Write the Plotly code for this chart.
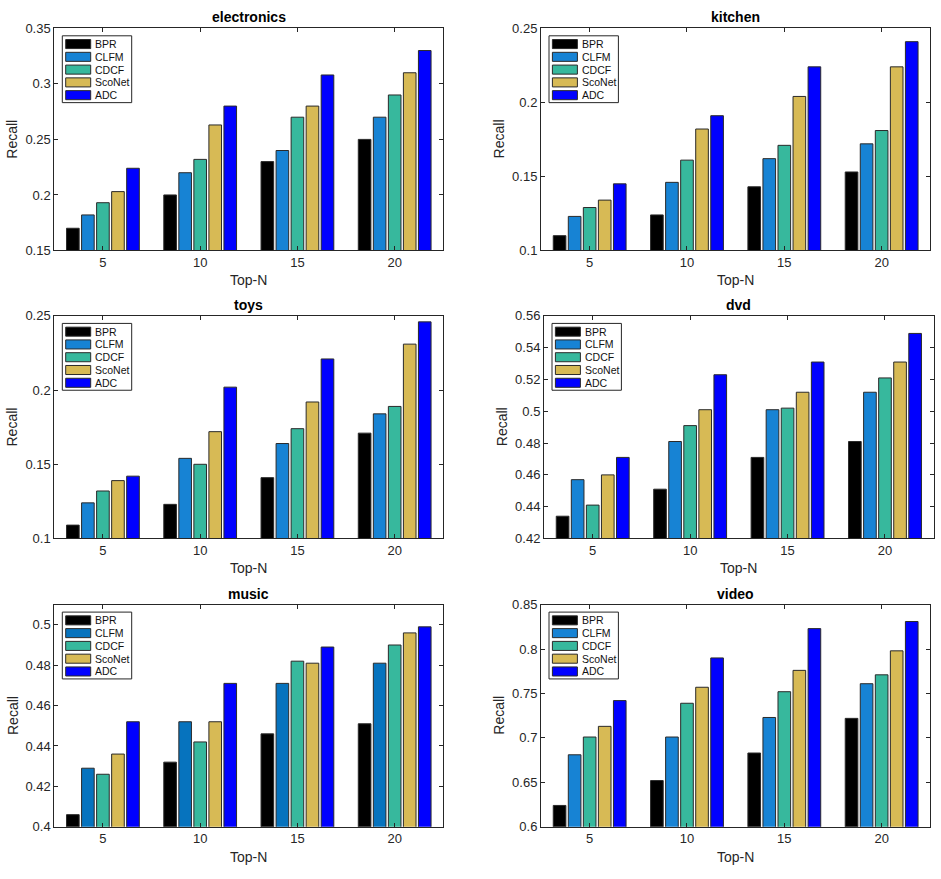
import plotly.graph_objects as go

W, H = 941, 879

top_n = ["5", "10", "15", "20"]
methods = ["BPR", "CLFM", "CDCF", "ScoNet", "ADC"]

electronics = {"BPR": [0.170, 0.200, 0.230, 0.250], "CLFM": [0.182, 0.220, 0.240, 0.270],
               "CDCF": [0.193, 0.232, 0.270, 0.290], "ScoNet": [0.203, 0.263, 0.280, 0.310],
               "ADC": [0.224, 0.280, 0.308, 0.330]}
kitchen = {"BPR": [0.110, 0.124, 0.143, 0.153], "CLFM": [0.123, 0.146, 0.162, 0.172],
           "CDCF": [0.129, 0.161, 0.171, 0.181], "ScoNet": [0.134, 0.182, 0.204, 0.224],
           "ADC": [0.145, 0.191, 0.224, 0.241]}
toys = {"BPR": [0.109, 0.123, 0.141, 0.171], "CLFM": [0.124, 0.154, 0.164, 0.184],
        "CDCF": [0.132, 0.150, 0.174, 0.189], "ScoNet": [0.139, 0.172, 0.192, 0.231],
        "ADC": [0.142, 0.202, 0.221, 0.246]}
dvd = {"BPR": [0.434, 0.451, 0.471, 0.481], "CLFM": [0.457, 0.481, 0.501, 0.512],
       "CDCF": [0.441, 0.491, 0.502, 0.521], "ScoNet": [0.460, 0.501, 0.512, 0.531],
       "ADC": [0.471, 0.523, 0.531, 0.549]}
music = {"BPR": [0.406, 0.432, 0.446, 0.451], "CLFM": [0.429, 0.452, 0.471, 0.481],
         "CDCF": [0.426, 0.442, 0.482, 0.490], "ScoNet": [0.436, 0.452, 0.481, 0.496],
         "ADC": [0.452, 0.471, 0.489, 0.499]}
video = {"BPR": [0.624, 0.652, 0.683, 0.722], "CLFM": [0.681, 0.701, 0.723, 0.761],
         "CDCF": [0.701, 0.739, 0.752, 0.771], "ScoNet": [0.713, 0.757, 0.776, 0.798],
         "ADC": [0.742, 0.790, 0.823, 0.831]}

colors = {"BPR": "#000000", "CLFM": "#1783D4", "CDCF": "#37B89D", "ScoNet": "#D7BA55", "ADC": "#0000FF"}
music_colors = dict(colors, CLFM="#0673BE")

# name, data, y-range, dtick, pixel box (left, right, top, bottom), colors
panels = [
    ("electronics", electronics, [0.15, 0.35], 0.05, (54.3, 443.3, 21.7, 247.7), colors),
    ("kitchen", kitchen, [0.10, 0.25], 0.05, (541.0, 930.3, 21.7, 247.7), colors),
    ("toys", toys, [0.10, 0.25], 0.05, (54.3, 443.3, 314.3, 540.7), colors),
    ("dvd", dvd, [0.42, 0.56], 0.02, (544.0, 933.7, 314.3, 540.7), colors),
    ("music", music, [0.40, 0.51], 0.02, (54.3, 443.3, 608.0, 834.0), music_colors),
    ("video", video, [0.60, 0.85], 0.05, (541.0, 930.3, 608.0, 834.0), colors),
]

AXC = "#262626"
FONT = "Liberation Sans, Arial, sans-serif"

fig = go.Figure()
shapes = []
annotations = []
layout_axes = {}

for i, (name, data, yr, dt, box, cols) in enumerate(panels):
    n = i + 1
    xid = "x" if n == 1 else f"x{n}"
    yid = "y" if n == 1 else f"y{n}"
    xkey = "xaxis" if n == 1 else f"xaxis{n}"
    ykey = "yaxis" if n == 1 else f"yaxis{n}"
    l, r, t, b = box
    pw, ph = r - l, b - t
    for m in methods:
        fig.add_trace(go.Bar(
            x=top_n, y=data[m], name=m, showlegend=False,
            marker=dict(color=cols[m], line=dict(color="#2a2a2a", width=1)),
            xaxis=xid, yaxis=yid,
        ))
    common = dict(showline=True, mirror="ticks", linecolor=AXC, linewidth=1,
                  ticks="inside", ticklen=4, tickcolor=AXC, tickwidth=1,
                  showgrid=False, zeroline=False,
                  tickfont=dict(family=FONT, size=13, color=AXC))
    layout_axes[xkey] = dict(domain=[l / W, r / W], anchor=yid, type="category",
                             range=[-0.5, 3.5], **common)
    layout_axes[ykey] = dict(domain=[1 - b / H, 1 - t / H], anchor=xid, range=yr,
                             dtick=dt, tick0=0, **common)

    xd, yd = f"{xid} domain", f"{yid} domain"
    # title
    annotations.append(dict(text=f"<b>{name}</b>", xref=xd, yref=yd, x=0.5, y=1,
                            xanchor="center", yanchor="bottom", yshift=1, showarrow=False,
                            font=dict(family=FONT, size=14, color="#000000")))
    annotations.append(dict(text="Top-N", xref=xd, yref=yd, x=0.5, y=0,
                            xanchor="center", yanchor="middle", yshift=-30, showarrow=False,
                            font=dict(family=FONT, size=14, color=AXC)))
    annotations.append(dict(text="Recall", xref=xd, yref=yd, x=0, y=0.5, textangle=-90,
                            xanchor="center", yanchor="middle", xshift=-42, showarrow=False,
                            font=dict(family=FONT, size=14, color=AXC)))
    # legend box
    shapes.append(dict(type="rect", xref=xd, yref=yd, x0=8 / pw, x1=77.4 / pw,
                       y0=1 - 75.6 / ph, y1=1 - 7.6 / ph, fillcolor="#FFFFFF",
                       line=dict(color=AXC, width=1), layer="above"))
    for j, m in enumerate(methods):
        yc = 1 - (16 + 13 * j) / ph
        hh = 4.6 / ph
        shapes.append(dict(type="rect", xref=xd, yref=yd, x0=11.4 / pw, x1=36.4 / pw,
                           y0=yc - hh, y1=yc + hh, fillcolor=cols[m],
                           line=dict(color="#2a2a2a", width=1), layer="above"))
        annotations.append(dict(text=m, xref=xd, yref=yd, x=38.6 / pw, y=yc,
                                xanchor="left", yanchor="middle", showarrow=False,
                                font=dict(family=FONT, size=10.5, color="#111111")))

fig.update_layout(
    width=W, height=H,
    margin=dict(l=0, r=0, t=0, b=0),
    paper_bgcolor="white", plot_bgcolor="white",
    barmode="group", bargap=0.227, bargroupgap=0.16,
    shapes=shapes, annotations=annotations,
    showlegend=False,
    **layout_axes,
)

fig.write_html("out.html")
